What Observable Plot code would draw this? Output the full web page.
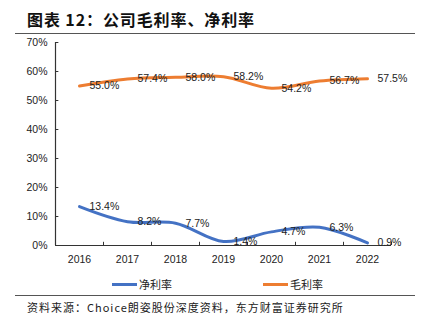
<!DOCTYPE html>
<html><head><meta charset="utf-8">
<script src="https://cdn.jsdelivr.net/npm/d3@7"></script>
<script src="https://cdn.jsdelivr.net/npm/@observablehq/plot@0.6"></script>
<style>
body{margin:0;background:#fff;width:422px;height:329px;position:relative;overflow:hidden;font-family:"Liberation Sans",Arial,sans-serif;}
.title{position:absolute;left:27px;top:7px;font-family:"Noto Sans CJK SC",sans-serif;font-weight:bold;font-size:16px;letter-spacing:0.9px;color:#111;white-space:nowrap;}
.hr{position:absolute;left:15px;width:400px;height:0;border-top:1.5px solid #555;}
#chart{position:absolute;left:0;top:36px;}
.leg{position:absolute;top:276px;font-family:"Noto Sans CJK SC",sans-serif;font-size:11px;color:#222;display:flex;align-items:center;white-space:nowrap;}
.leg i{display:inline-block;width:25px;height:3px;margin-right:2px;}
.cap{position:absolute;left:27px;top:299px;font-family:"Noto Sans CJK SC",sans-serif;font-size:11px;color:#222;white-space:nowrap;letter-spacing:1px;}
</style></head>
<body>
<div class="title">图表 12：公司毛利率、净利率</div>
<div class="hr" style="top:33px"></div>
<div id="chart"></div>
<div class="leg" style="left:112px"><i style="background:#4472C4"></i>净利率</div>
<div class="leg" style="left:263px"><i style="background:#ED7D31"></i>毛利率</div>
<div class="hr" style="top:295px"></div>
<div class="cap">资料来源：Choice朗姿股份深度资料，东方财富证券研究所</div>
<script>
const years = [2016, 2017, 2018, 2019, 2020, 2021, 2022];
const netMargin = [13.4, 8.2, 7.7, 1.4, 4.7, 6.3, 0.9];
const grossMargin = [55.0, 57.4, 58.0, 58.2, 54.2, 56.7, 57.5];
const yTicks = [0, 10, 20, 30, 40, 50, 60, 70];

const net = years.map((y, i) => ({year: y, v: netMargin[i]}));
const gross = years.map((y, i) => ({year: y, v: grossMargin[i]}));
const x0 = years[0] - 0.5, x1 = years[years.length - 1] + 0.5;
const bounds = years.slice(0, -1).map(y => y + 0.5).concat([x1]);
const lbl = d => d.v.toFixed(1) + "%";

const chart = Plot.plot({
  width: 422, height: 234,
  marginTop: 6, marginBottom: 25, marginLeft: 55, marginRight: 31,
  style: {fontFamily: "Liberation Sans, Arial, sans-serif", fontSize: "10.5px", color: "#222", background: "transparent"},
  x: {domain: [x0, x1]},
  y: {domain: [0, 70]},
  marks: [
    Plot.axisY(yTicks, {tickSize: 0, tickPadding: 8, tickFormat: d => d + "%", fill: "#222", label: null}),
    Plot.axisX(years, {tickSize: 0, tickPadding: 10, tickFormat: d => String(d), fill: "#222", label: null}),
    Plot.ruleY(yTicks, {x1: x0, x2: x0 + 0.07, stroke: "#333"}),
    Plot.ruleX(bounds, {y1: 0, y2: 1.1, stroke: "#333"}),
    Plot.ruleX([x0], {stroke: "#333", strokeWidth: 1.2}),
    Plot.ruleY([0], {stroke: "#333", strokeWidth: 1.2}),
    Plot.line(gross, {x: "year", y: "v", stroke: "#ED7D31", strokeWidth: 3, curve: "catmull-rom"}),
    Plot.line(net, {x: "year", y: "v", stroke: "#4472C4", strokeWidth: 3, curve: "catmull-rom"}),
    Plot.text(gross, {x: "year", y: "v", text: lbl, dx: 10, textAnchor: "start", fill: "#222", fontSize: 10.5}),
    Plot.text(net, {x: "year", y: "v", text: lbl, dx: 10, textAnchor: "start", fill: "#222", fontSize: 10.5})
  ]
});
document.getElementById("chart").appendChild(chart);
</script>
</body></html>
